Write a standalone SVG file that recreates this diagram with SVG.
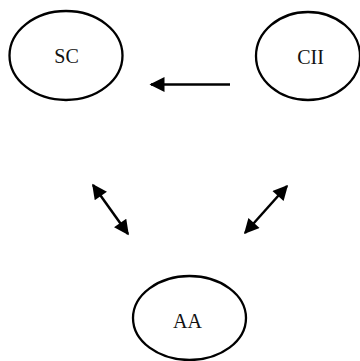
<svg xmlns="http://www.w3.org/2000/svg" width="360" height="361" viewBox="0 0 360 361">
<style>
.node ellipse{fill:#fff;stroke:#000;stroke-width:2.3}
.node text{font-family:"Liberation Serif","Times New Roman",serif;font-size:20px;fill:#111;text-anchor:middle}
.edge{stroke:#000;stroke-width:2.5;fill:none}
</style>
<defs>
<marker id="ah" viewBox="0 0 10 10" refX="9" refY="5" markerWidth="7" markerHeight="6" markerUnits="strokeWidth" orient="auto-start-reverse">
<path d="M0,0 L10,5 L0,10 z" fill="#000"/>
</marker>
</defs>
<rect width="360" height="361" fill="#fff"/>
<g id="SC" class="node"><ellipse cx="66" cy="55.5" rx="56.5" ry="44.5"/><text x="66.5" y="62.5">SC</text></g>
<g id="CII" class="node"><ellipse cx="308" cy="56" rx="52" ry="44"/><text x="310.5" y="63.5">CII</text></g>
<g id="AA" class="node"><ellipse cx="189.5" cy="318" rx="56.5" ry="42"/><text x="187.5" y="328">AA</text></g>
<g id="connectors">
<line class="edge" x1="230" y1="84.5" x2="151" y2="84.5" marker-end="url(#ah)"/>
<line class="edge" x1="93" y1="185" x2="128" y2="234" marker-start="url(#ah)" marker-end="url(#ah)"/>
<line class="edge" x1="287" y1="186" x2="245" y2="233" marker-start="url(#ah)" marker-end="url(#ah)"/>
</g>
</svg>
